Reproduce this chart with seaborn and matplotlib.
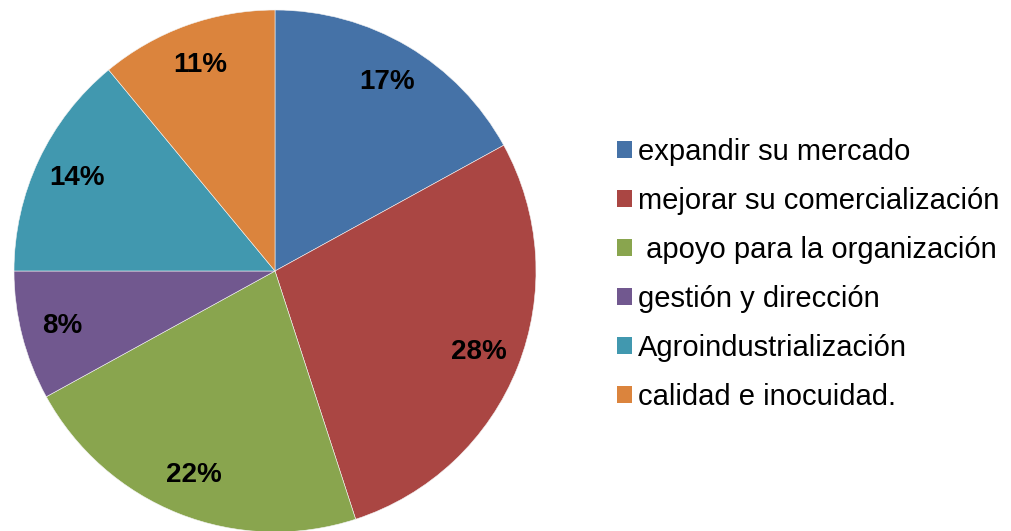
import matplotlib
matplotlib.use("Agg")
import matplotlib.pyplot as plt
import seaborn as sns
from matplotlib.patches import Patch

categorias = ["expandir su mercado", "mejorar su comercialización",
              " apoyo para la organización", "gestión y dirección",
              "Agroindustrialización", "calidad e inocuidad."]
porcentajes = [17, 28, 22, 8, 14, 11]
colores = ["#4572A7", "#AA4643", "#89A54E", "#71588F", "#4198AF", "#DB843D"]

sns.set_style("white")
plt.rcParams["font.family"] = ["Liberation Sans", "DejaVu Sans"]

fig = plt.figure(figsize=(10.11, 5.31), dpi=100)
cx, cy, r = 275, 271, 261
ax = fig.add_axes([(cx - r) / 1011, (531 - cy - r) / 531, 2 * r / 1011, 2 * r / 531])

paleta = sns.color_palette(colores)
wedges, _, autotexts = ax.pie(porcentajes, colors=paleta, startangle=90, counterclock=False,
                              autopct=lambda p: f"{p:.0f}%", pctdistance=0.84,
                              wedgeprops=dict(edgecolor="#f4f4f4", linewidth=0.4))
for t in autotexts:
    t.set_fontsize(20)
    t.set_fontweight("bold")
    t.set_color("black")
ax.set_xlim(-1, 1)
ax.set_ylim(-1, 1)
ax.set_aspect("equal")
ax.axis("off")

handles = [Patch(facecolor=c, edgecolor="none") for c in paleta]
fig.legend(handles, categorias, loc="upper left", bbox_to_anchor=(617 / 1011, 1 - 138 / 531),
           frameon=False, fontsize=21, handlelength=0.52, handleheight=0.52,
           handletextpad=0.2, labelspacing=0.72, borderpad=0, borderaxespad=0,
           labelcolor="black")

fig.savefig("out.png", dpi=100)
